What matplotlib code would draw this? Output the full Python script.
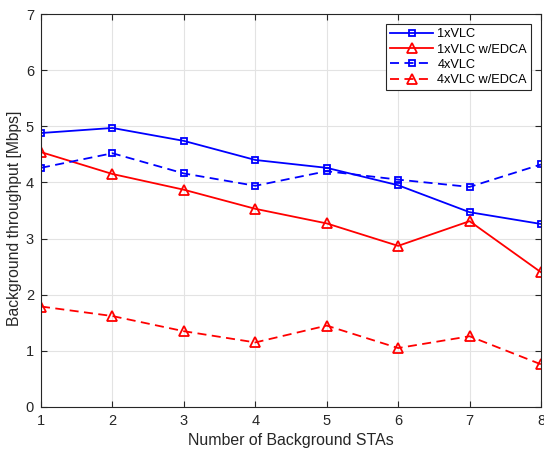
import numpy as np
import matplotlib.pyplot as plt

plt.rcParams['font.family'] = ['Liberation Sans', 'DejaVu Sans']

stas = [1, 2, 3, 4, 5, 6, 7, 8]
vlc1 = [4.88, 4.97, 4.74, 4.40, 4.26, 3.95, 3.47, 3.26]
vlc1_edca = [4.54, 4.15, 3.87, 3.53, 3.27, 2.87, 3.31, 2.40]
vlc4 = [4.26, 4.52, 4.16, 3.94, 4.20, 4.05, 3.92, 4.32]
vlc4_edca = [1.79, 1.62, 1.35, 1.15, 1.45, 1.05, 1.26, 0.76]

fig = plt.figure(figsize=(5.44, 4.53), dpi=100)
ax = fig.add_axes([41 / 544, 1 - 407 / 453, 500 / 544, 393 / 453])

lw = 1.3
dash = (5, 3)
ax.plot(stas, vlc1, '-s', color='blue', lw=lw, ms=4.5, mfc='none', mew=1.3, label='1xVLC')
ax.plot(stas, vlc1_edca, '-^', color='red', lw=lw, ms=6.5, mfc='none', mew=1.3, label='1xVLC w/EDCA')
ax.plot(stas, vlc4, '--s', color='blue', lw=lw, ms=4.5, mfc='none', mew=1.3, dashes=dash, label='4xVLC')
ax.plot(stas, vlc4_edca, '--^', color='red', lw=lw, ms=6.5, mfc='none', mew=1.3, dashes=dash, label='4xVLC w/EDCA')

ax.set_xlim(1, 8)
ax.set_ylim(0, 7)
ax.set_xticks(stas)
ax.set_yticks(range(0, 8))
ax.grid(True, color='#e3e3e3', lw=0.8)
ax.set_axisbelow(True)
ax.tick_params(direction='in', top=True, right=True, labelsize=10.5, colors='#262626',
               length=4, pad=5)
for s in ax.spines.values():
    s.set_color('#262626')
ax.set_xlabel('Number of Background STAs', fontsize=11.4, color='#262626', labelpad=4)
ax.set_ylabel('Background throughput [Mbps]', fontsize=11.3, color='#262626')
ax.yaxis.set_label_coords(-0.037, 0.48)

leg = ax.legend(loc='upper right', fontsize=9.2, fancybox=False, framealpha=1,
                edgecolor='#262626', handlelength=3.4, borderaxespad=0.8,
                labelspacing=0.27, borderpad=0.3, handletextpad=0.3)
leg.get_frame().set_linewidth(0.8)

fig.savefig('out.png', dpi=100)
